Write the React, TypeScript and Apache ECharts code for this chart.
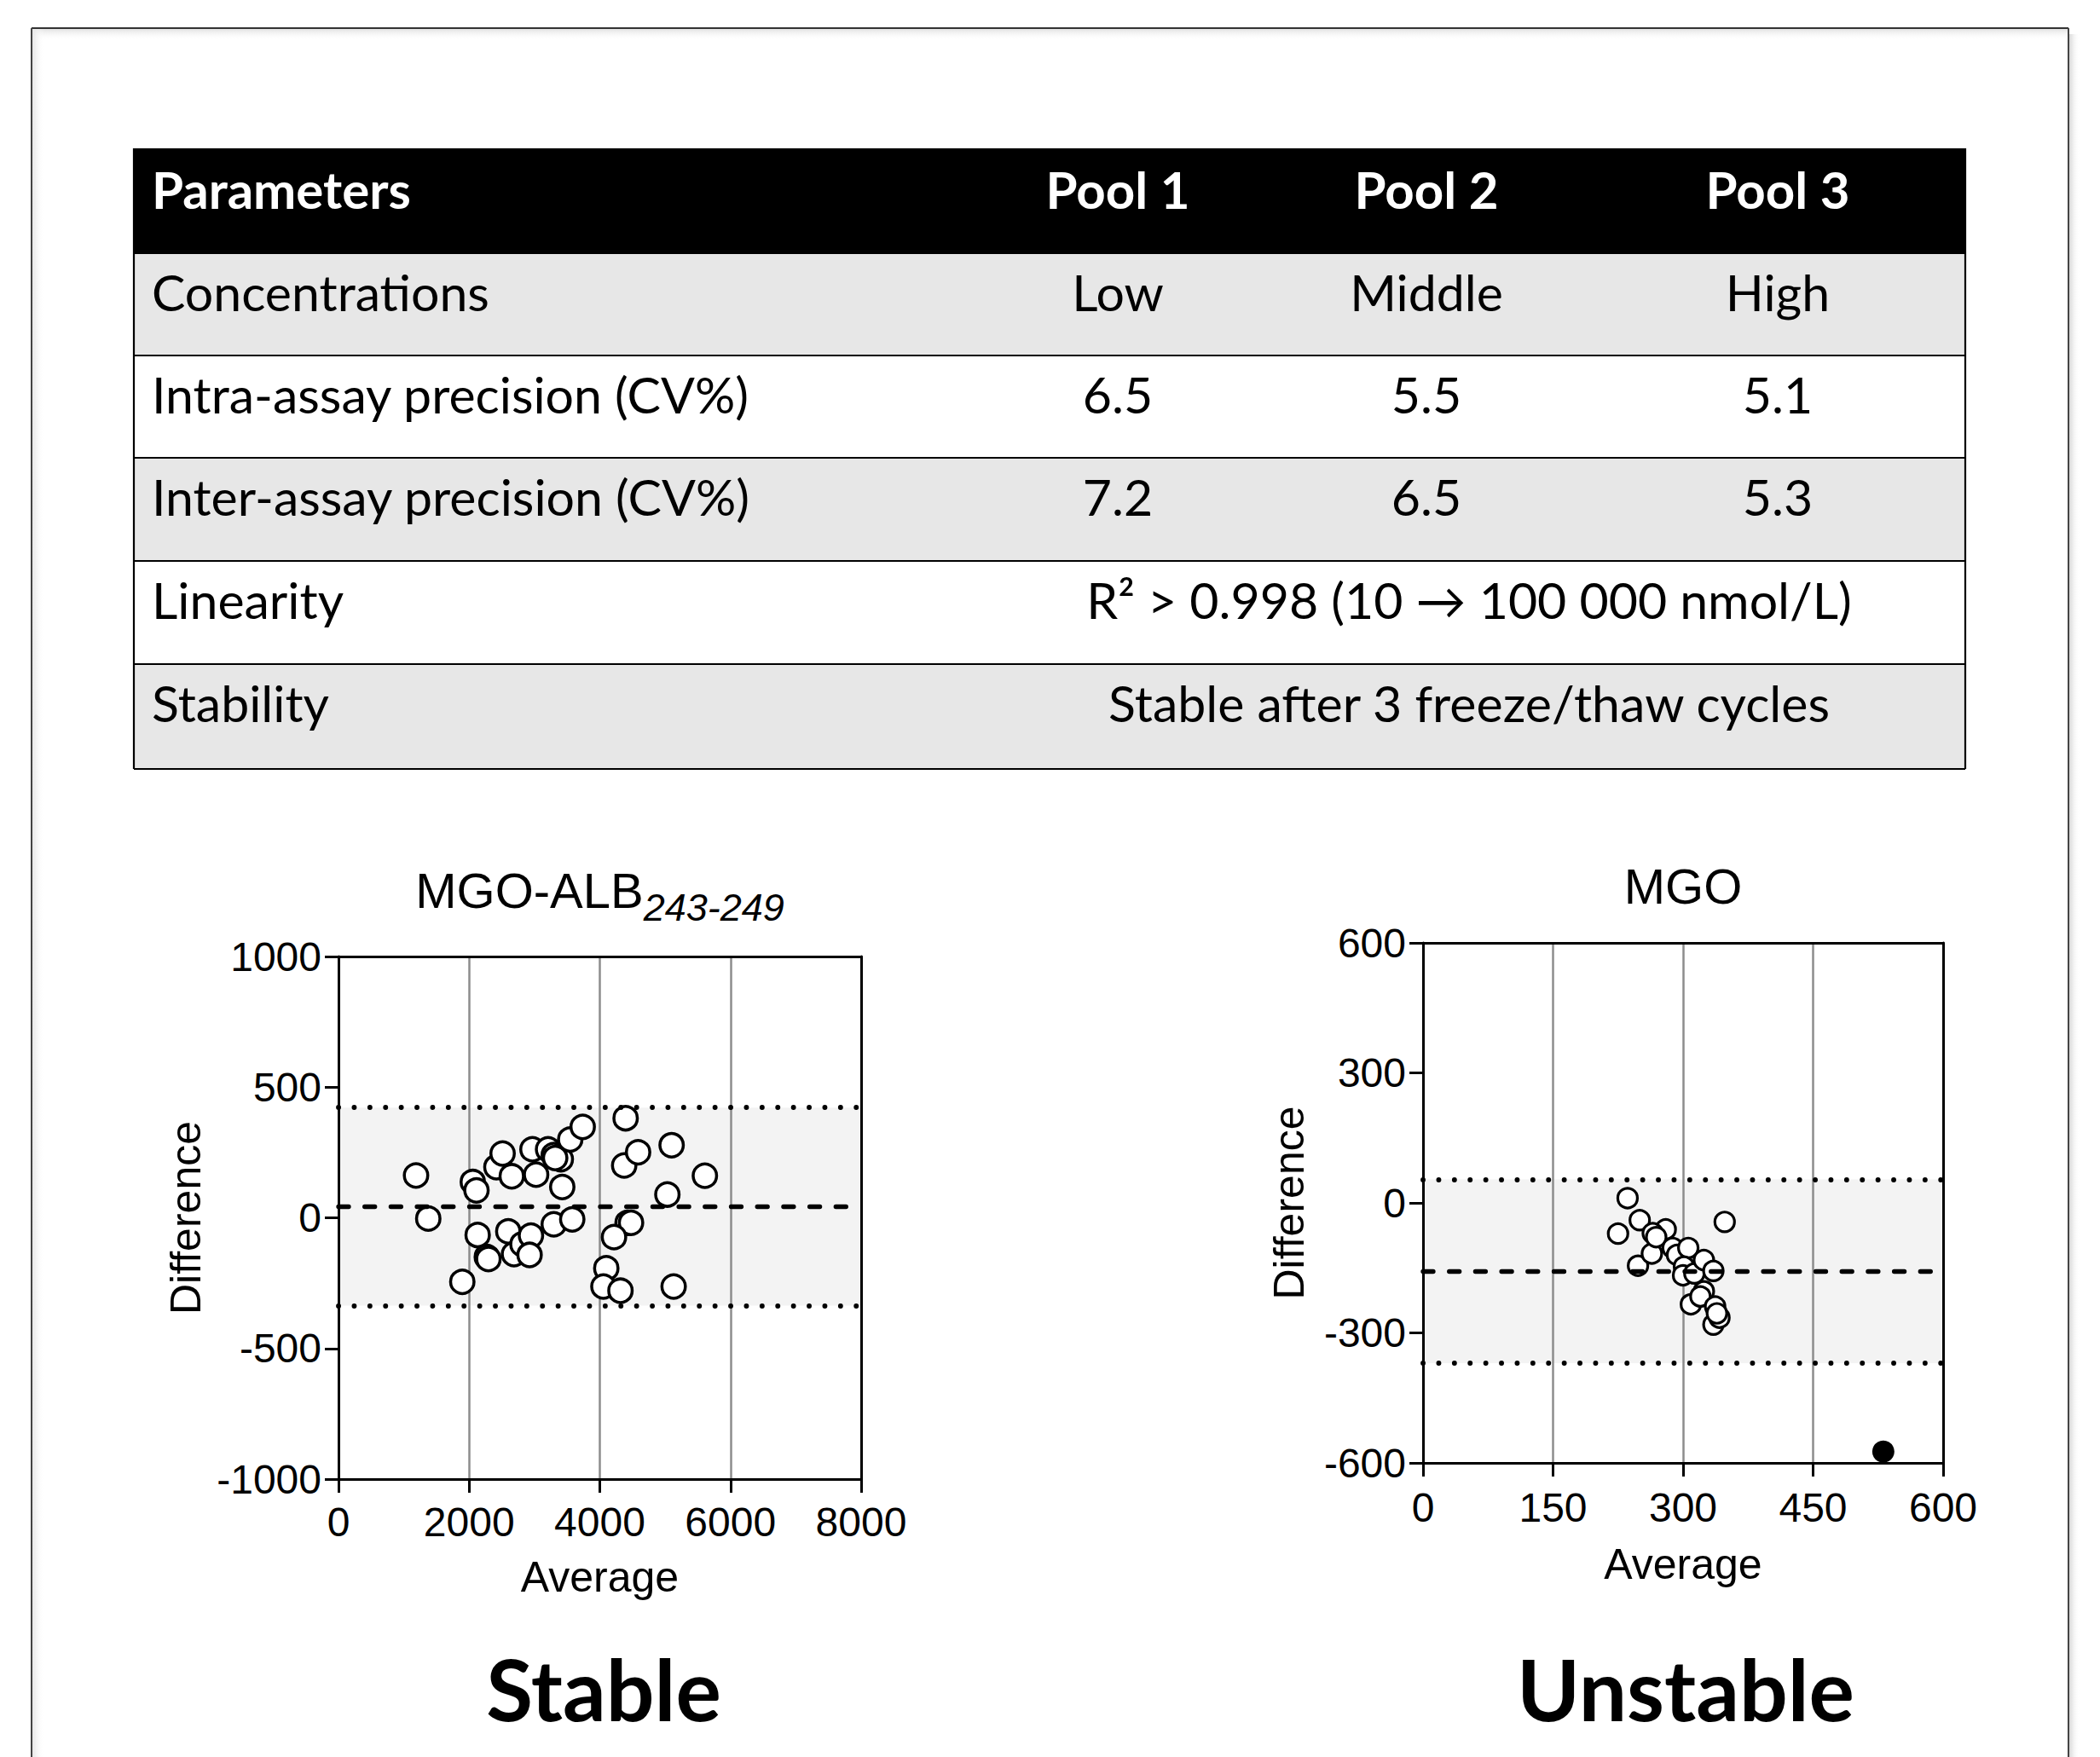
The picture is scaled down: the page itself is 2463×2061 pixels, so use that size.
import React, { useEffect, useRef } from "react";
import * as echarts from "echarts";

// ---------- table content ----------
const tableHeader = ["Parameters", "Pool 1", "Pool 2", "Pool 3"];
const rowLabels = [
  "Concentrations",
  "Intra-assay precision (CV%)",
  "Inter-assay precision (CV%)",
  "Linearity",
  "Stability",
];
const rowPool1 = ["Low", "6.5", "7.2"];
const rowPool2 = ["Middle", "5.5", "6.5"];
const rowPool3 = ["High", "5.1", "5.3"];
const mergedRows = ["R² > 0.998 (10 → 100 000 nmol/L)", "Stable after 3 freeze/thaw cycles"];

// ---------- left plot: MGO-ALB243-249 ----------
const leftTicksX = [0, 2000, 4000, 6000, 8000];
const leftTicksY = [-1000, -500, 0, 500, 1000];
const albAverage = [
  1187, 1374, 1895, 2056, 2112, 2130, 2270, 2295, 2417, 2512, 2652, 2599, 2686, 2816,
  2946, 2925, 2969, 3025, 3208, 3403, 3295, 3317, 3425, 3547, 3738, 3295, 3578, 4395,
  4373, 4586, 5099, 5608, 5034, 4425, 4478, 4217, 4099, 4055, 4316, 5130,
];
const albDifference = [
  162, -3, -245, 137, 105, -66, -150, -158, 194, 246, 159, -52, -139, -101,
  -68, -142, 262, 165, 262, 224, 240, 229, 118, 300, 348, -25, -6, 381,
  200, 251, 278, 161, 89, -19, -19, -74, -193, -263, -279, -263,
];
const albBias = 43;
const albUpper = 422;
const albLower = -336;

// ---------- right plot: MGO ----------
const rightTicksX = [0, 150, 300, 450, 600];
const rightTicksY = [-600, -300, 0, 300, 600];
const mgoAverage = [
  236, 225, 250, 248, 264, 280, 265, 269, 288, 293, 306, 301, 300, 313, 324, 335, 348,
  309, 324, 320, 337, 335, 342, 339,
];
const mgoDifference = [
  11, -71, -40, -145, -117, -61, -70, -79, -104, -120, -104, -147, -167, -163, -132, -157, -44,
  -234, -204, -216, -239, -281, -265, -255,
];
const mgoOutlierAverage = [531];
const mgoOutlierDifference = [-574];
const mgoBias = -158;
const mgoUpper = 54;
const mgoLower = -370;

const verdicts = ["Stable", "Unstable"];
const titles = ["MGO-ALB", "243-249", "MGO"];

const ARIAL = "Liberation Sans, Arial, sans-serif";
const CAL = "Lato, Open Sans, sans-serif";

function axisPair(
  gi: number,
  xt: number[],
  yt: number[],
  xNameGap: number,
  yNameGap: number,
  xLabelMargin: number
) {
  const common = {
    axisLine: { show: true, onZero: false, lineStyle: { color: "#000", width: 3 } },
    axisTick: { show: true, length: 16, lineStyle: { color: "#000", width: 3 } },
    axisLabel: {
      color: "#000",
      fontSize: 48,
      fontFamily: ARIAL,
      formatter: (v: number) => String(v),
    },
  };
  const xAxes = [
    {
      ...common,
      gridIndex: gi,
      type: "value",
      position: "bottom",
      min: xt[0],
      max: xt[xt.length - 1],
      interval: xt[1] - xt[0],
      z: 2,
      axisLabel: { ...common.axisLabel, margin: xLabelMargin },
      splitLine: {
        show: true,
        showMinLine: false,
        showMaxLine: false,
        lineStyle: { color: "#8c8c8c", width: 2.5 },
      },
      name: "Average",
      nameLocation: "middle",
      nameGap: xNameGap,
      nameTextStyle: { color: "#000", fontSize: 50, fontFamily: ARIAL },
    },
    {
      gridIndex: gi,
      type: "value",
      position: "top",
      min: xt[0],
      max: xt[xt.length - 1],
      z: 5,
      axisLine: { show: true, onZero: false, lineStyle: { color: "#000", width: 3 } },
      axisTick: { show: false },
      axisLabel: { show: false },
      splitLine: { show: false },
    },
  ];
  const yAxes = [
    {
      ...common,
      gridIndex: gi,
      type: "value",
      position: "left",
      min: yt[0],
      max: yt[yt.length - 1],
      interval: yt[1] - yt[0],
      z: 2,
      axisLabel: { ...common.axisLabel, margin: 20 },
      splitLine: { show: false },
      name: "Difference",
      nameLocation: "middle",
      nameGap: yNameGap,
      nameTextStyle: { color: "#000", fontSize: 50, fontFamily: ARIAL },
    },
    {
      gridIndex: gi,
      type: "value",
      position: "right",
      min: yt[0],
      max: yt[yt.length - 1],
      z: 5,
      axisLine: { show: true, onZero: false, lineStyle: { color: "#000", width: 3 } },
      axisTick: { show: false },
      axisLabel: { show: false },
      splitLine: { show: false },
    },
  ];
  return { xAxes, yAxes };
}

function blandAltmanSeries(
  xi: number,
  yi: number,
  xMin: number,
  xMax: number,
  bias: number,
  upper: number,
  lower: number
) {
  return [
    {
      type: "line",
      xAxisIndex: xi,
      yAxisIndex: yi,
      data: [],
      z: 1,
      silent: true,
      markArea: {
        silent: true,
        itemStyle: { color: "#f3f3f3" },
        data: [[{ xAxis: xMin, yAxis: lower }, { xAxis: xMax, yAxis: upper }]],
      },
    },
    {
      type: "line",
      xAxisIndex: xi,
      yAxisIndex: yi,
      data: [],
      z: 3,
      silent: true,
      markLine: {
        silent: true,
        symbol: ["none", "none"],
        label: { show: false },
        emphasis: { disabled: true },
        data: [
          { yAxis: bias, lineStyle: { color: "#000", width: 5.3, type: [12, 18.7], cap: "round" } },
          { yAxis: upper, lineStyle: { color: "#000", width: 5.8, type: [0.1, 18.3], cap: "round" } },
          { yAxis: lower, lineStyle: { color: "#000", width: 5.8, type: [0.1, 18.3], cap: "round" } },
        ],
      },
    },
  ];
}

function buildTable() {
  const x0 = 157;
  const x1 = 2305;
  const tops = [174, 297, 417, 537, 658, 779, 902];
  const colCenters = [1311, 1673, 2085];
  const mergedCenter = 1723;
  const fs = 59;
  const hfs = 60;
  const els: any[] = [];
  els.push({ type: "rect", shape: { x: x0, y: tops[0], width: x1 - x0, height: tops[1] - tops[0] }, style: { fill: "#000" } });
  for (let r = 0; r < rowLabels.length; r++) {
    els.push({
      type: "rect",
      shape: { x: x0, y: tops[r + 1], width: x1 - x0, height: tops[r + 2] - tops[r + 1] },
      style: { fill: r % 2 === 0 ? "#e7e7e7" : "#ffffff" },
    });
  }
  for (let r = 1; r < tops.length; r++) {
    els.push({ type: "line", shape: { x1: x0, y1: tops[r], x2: x1, y2: tops[r] }, style: { stroke: "#000", lineWidth: 2.2 } });
  }
  els.push({ type: "line", shape: { x1: x0, y1: tops[0], x2: x0, y2: tops[6] }, style: { stroke: "#000", lineWidth: 2.2 } });
  els.push({ type: "line", shape: { x1: x1, y1: tops[0], x2: x1, y2: tops[6] }, style: { stroke: "#000", lineWidth: 2.2 } });

  const baseOff = 70;
  const mid = (top: number, f: number) => top + baseOff - 0.387 * f;
  for (let c = 0; c < 4; c++) {
    els.push({
      type: "text",
      x: c === 0 ? 178 : colCenters[c - 1],
      y: mid(tops[0], hfs) + 1,
      style: { text: tableHeader[c], fill: "#fff", fontSize: hfs, fontWeight: "bold", fontFamily: CAL, textAlign: c === 0 ? "left" : "center", textVerticalAlign: "middle" },
    });
  }
  const cols = [rowPool1, rowPool2, rowPool3];
  for (let r = 0; r < rowLabels.length; r++) {
    const y = mid(tops[r + 1], fs) - 2;
    els.push({ type: "text", x: 178, y, style: { text: rowLabels[r], fill: "#000", fontSize: fs, fontFamily: CAL, textAlign: "left", textVerticalAlign: "middle" } });
    if (r < 3) {
      for (let c = 0; c < 3; c++) {
        els.push({ type: "text", x: colCenters[c], y, style: { text: cols[c][r], fill: "#000", fontSize: fs, fontFamily: CAL, textAlign: "center", textVerticalAlign: "middle" } });
      }
    } else {
      els.push({ type: "text", x: mergedCenter, y, style: { text: mergedRows[r - 3], fill: "#000", fontSize: fs, fontFamily: CAL, textAlign: "center", textVerticalAlign: "middle" } });
    }
  }
  return els;
}

function buildFrame() {
  return [
    {
      type: "rect",
      shape: { x: 38, y: 34, width: 2388, height: 13 },
      style: { fill: new echarts.graphic.LinearGradient(0, 0, 0, 1, [{ offset: 0, color: "#e2e2e2" }, { offset: 1, color: "rgba(255,255,255,0)" }]) },
    },
    {
      type: "rect",
      shape: { x: 38, y: 34, width: 14, height: 2040 },
      style: { fill: new echarts.graphic.LinearGradient(0, 0, 1, 0, [{ offset: 0, color: "#e6e6e6" }, { offset: 1, color: "rgba(255,255,255,0)" }]) },
    },
    {
      type: "rect",
      shape: { x: 2427, y: 40, width: 12, height: 2040 },
      style: { fill: new echarts.graphic.LinearGradient(0, 0, 1, 0, [{ offset: 0, color: "#d6d6d6" }, { offset: 1, color: "rgba(255,255,255,0)" }]) },
    },
    { type: "line", shape: { x1: 37, y1: 33, x2: 2426, y2: 33 }, style: { stroke: "#333", lineWidth: 2 } },
    { type: "line", shape: { x1: 37, y1: 33, x2: 37, y2: 2070 }, style: { stroke: "#444", lineWidth: 2 } },
    { type: "line", shape: { x1: 2426, y1: 33, x2: 2426, y2: 2070 }, style: { stroke: "#444", lineWidth: 2 } },
  ];
}

export default function App() {
  const ref = useRef<HTMLDivElement>(null);
  useEffect(() => {
    if (!ref.current) return;
    const chart = echarts.init(ref.current, null, { renderer: "svg" });

    const L = axisPair(0, leftTicksX, leftTicksY, 90, 154, 26);
    const R = axisPair(1, rightTicksX, rightTicksY, 94, 132, 28);

    const leftCenter = 397 + 613 / 2;
    const rightCenter = 1669 + 610 / 2;
    const titleFs = 58;
    const subFs = 45;
    const mainW = 267.5;
    const subW = 165;
    const titleStart = leftCenter - (mainW + subW) / 2;
    const vfs = 100;

    const option: any = {
      animation: false,
      backgroundColor: "#ffffff",
      grid: [
        { left: 397, top: 1122, width: 613, height: 613 },
        { left: 1669, top: 1106, width: 610, height: 610 },
      ],
      xAxis: [L.xAxes[0], L.xAxes[1], R.xAxes[0], R.xAxes[1]],
      yAxis: [L.yAxes[0], L.yAxes[1], R.yAxes[0], R.yAxes[1]],
      series: [
        ...blandAltmanSeries(0, 0, leftTicksX[0], leftTicksX[4], albBias, albUpper, albLower),
        {
          type: "scatter",
          xAxisIndex: 0,
          yAxisIndex: 0,
          z: 4,
          symbol: "circle",
          symbolSize: 27.5,
          itemStyle: { color: "#fff", borderColor: "#000", borderWidth: 3.5, opacity: 1 },
          data: albAverage.map((x, i) => [x, albDifference[i]]),
        },
        ...blandAltmanSeries(2, 2, rightTicksX[0], rightTicksX[4], mgoBias, mgoUpper, mgoLower),
        {
          type: "scatter",
          xAxisIndex: 2,
          yAxisIndex: 2,
          z: 4,
          symbol: "circle",
          symbolSize: 23,
          itemStyle: { color: "#fff", borderColor: "#000", borderWidth: 3.2, opacity: 1 },
          data: mgoAverage.map((x, i) => [x, mgoDifference[i]]),
        },
        {
          type: "scatter",
          xAxisIndex: 2,
          yAxisIndex: 2,
          z: 4,
          symbol: "circle",
          symbolSize: 26,
          itemStyle: { color: "#000", opacity: 1 },
          data: mgoOutlierAverage.map((x, i) => [x, mgoOutlierDifference[i]]),
        },
      ],
      graphic: [
        ...buildFrame(),
        ...buildTable(),
        { type: "text", x: titleStart, y: 1065 - 0.3465 * titleFs, style: { text: titles[0], fill: "#000", fontSize: titleFs, fontFamily: ARIAL, textAlign: "left", textVerticalAlign: "middle" } },
        { type: "text", x: titleStart + mainW, y: 1080 - 0.3465 * subFs, style: { text: titles[1], fill: "#000", fontSize: subFs, fontStyle: "italic", fontFamily: ARIAL, textAlign: "left", textVerticalAlign: "middle" } },
        { type: "text", x: rightCenter, y: 1060 - 0.3465 * titleFs, style: { text: titles[2], fill: "#000", fontSize: titleFs, fontFamily: ARIAL, textAlign: "center", textVerticalAlign: "middle" } },
        { type: "text", x: 708, y: 2019 - 0.387 * vfs, style: { text: verdicts[0], fill: "#000", fontSize: vfs, fontWeight: "bold", fontFamily: CAL, textAlign: "center", textVerticalAlign: "middle" } },
        { type: "text", x: 1977, y: 2019 - 0.387 * vfs, style: { text: verdicts[1], fill: "#000", fontSize: vfs, fontWeight: "bold", fontFamily: CAL, textAlign: "center", textVerticalAlign: "middle" } },
      ],
    };
    chart.setOption(option);
    return () => chart.dispose();
  }, []);
  return <div ref={ref} style={{ position: "absolute", left: 0, top: 0, width: 2463, height: 2061 }} />;
}
